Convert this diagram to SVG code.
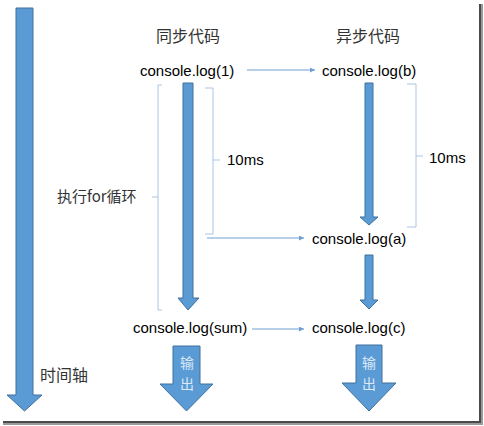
<svg xmlns="http://www.w3.org/2000/svg" width="484" height="426" viewBox="0 0 484 426">
<defs>
<style>
.big{fill:#5B9BD5;stroke:#41719C;stroke-width:1}
.conn{stroke:#6E9FD2;stroke-width:1;fill:none}
.br{stroke:#A9C4E2;stroke-width:1;fill:none}
.code{font-family:"Liberation Sans",Arial,sans-serif;font-size:15px;fill:#000}
.cjk{font-family:"Noto Sans CJK SC",sans-serif;fill:#333}
.out{font-family:"Noto Sans CJK SC",sans-serif;font-size:14px;fill:#DCE8F5;text-anchor:middle}
</style>
<marker id="ah" viewBox="0 0 6 6" refX="6" refY="3" markerWidth="5" markerHeight="5" orient="auto" markerUnits="userSpaceOnUse">
<path d="M0,0 L6,3 L0,6 z" fill="#6E9FD2"/>
</marker>
</defs>
<rect width="484" height="426" fill="#fff"/>
<rect x="479" y="4" width="2" height="420" fill="#4a4a4a"/>
<rect x="481" y="4" width="2" height="420" fill="#9a9a9a"/>
<rect x="3" y="421" width="478" height="2" fill="#4a4a4a"/>
<rect x="3" y="423" width="480" height="2" fill="#9a9a9a"/>

<g id="timeline">
<polygon class="big" points="16,8 33,8 33,395 42,395 24.5,411 7,395 16,395"/>
<text class="cjk" x="40" y="381" font-size="16">时间轴</text>
</g>

<g id="sync-header"><text class="cjk" x="188" y="42" font-size="16" text-anchor="middle">同步代码</text></g>
<g id="async-header"><text class="cjk" x="368" y="42" font-size="16" text-anchor="middle">异步代码</text></g>

<g id="log1"><text class="code" x="140" y="76">console.log(1)</text></g>
<g id="logb"><text class="code" x="322" y="76">console.log(b)</text></g>
<g id="loga"><text class="code" x="312" y="244">console.log(a)</text></g>
<g id="logsum"><text class="code" x="133" y="333">console.log(sum)</text></g>
<g id="logc"><text class="code" x="312" y="333">console.log(c)</text></g>

<g id="sync-flow"><polygon class="big" points="183,83 193,83 193,298 199,298 188,310 178,298 183,298"/></g>
<g id="async-flow1"><polygon class="big" points="365,83 373,83 373,217 378,217 369,225 360,217 365,217"/></g>
<g id="async-flow2"><polygon class="big" points="365,255 373,255 373,300 378,300 369,309 360,300 365,300"/></g>

<g id="sync-output">
<polygon class="big" points="173,346 200,346 200,384 213,384 186.5,411 160,384 173,384"/>
<text class="out" x="187" y="368">输</text>
<text class="out" x="187" y="389">出</text>
</g>
<g id="async-output">
<polygon class="big" points="356,345 382,345 382,383 396,383 369,411 342,383 356,383"/>
<text class="out" x="369" y="368">输</text>
<text class="out" x="369" y="389">出</text>
</g>

<g id="for-loop">
<path class="br" d="M162,85 H158 V310 H162 M158,197 H152"/>
<text class="cjk" x="57" y="202" font-size="15">执行for循环</text>
</g>
<g id="sync-10ms">
<path class="br" d="M205,88 H213 V234 H205 M213,160 H220"/>
<text class="code" x="227" y="165">10ms</text>
</g>
<g id="async-10ms">
<path class="br" d="M407,84 H416 V227 H407 M416,156 H423"/>
<text class="code" x="429" y="163">10ms</text>
</g>

<g id="connectors">
<line class="conn" x1="247" y1="70" x2="315" y2="70" marker-end="url(#ah)"/>
<line class="conn" x1="207" y1="238" x2="304" y2="238" marker-end="url(#ah)"/>
<line class="conn" x1="252" y1="329" x2="304" y2="329" marker-end="url(#ah)"/>
</g>
</svg>
